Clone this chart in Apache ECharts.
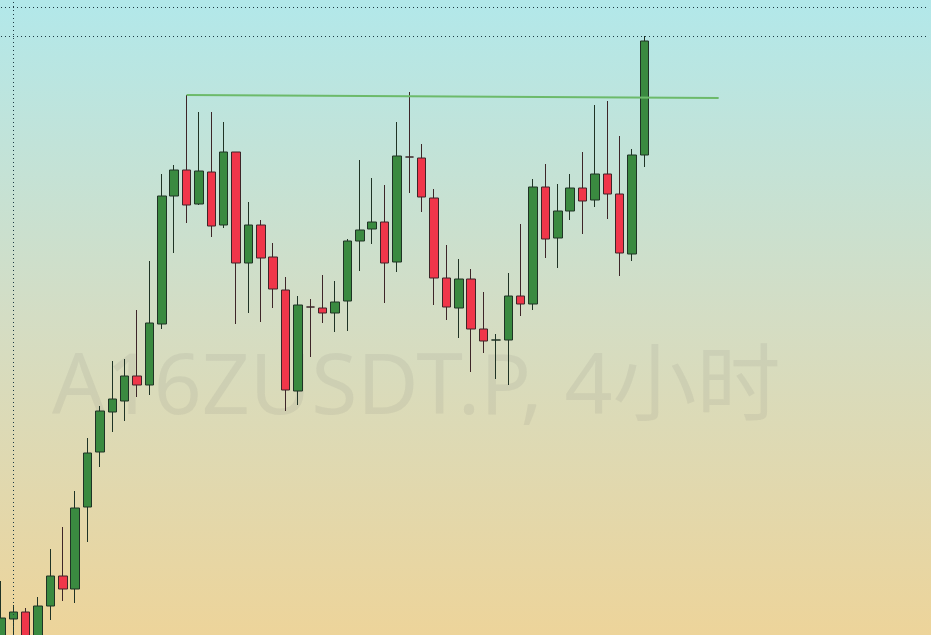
<!DOCTYPE html>
<html>
<head>
<meta charset="utf-8">
<script src="https://cdn.jsdelivr.net/npm/echarts@6/dist/echarts.min.js"></script>
<style>
html,body{margin:0;padding:0;width:931px;height:635px;overflow:hidden;}
#chart{width:931px;height:635px;}
</style>
</head>
<body>
<div id="chart"></div>
<script>
// Price values (arbitrary price units)
var opens  = [-10,16,23,-10,29,59,46,128,183,223,234,259,250,311,439,465,431,463,410,483,372,410,378,345,244,328,327,322,334,394,406,413,373,478,477,437,357,327,356,306,295,295,339,331,448,397,424,447,435,461,441,381,480];
var closes = [17,23,-10,29,59,46,127,182,224,236,259,250,312,439,465,430,464,409,483,372,410,377,346,245,330,328,322,333,394,405,413,372,479,478,438,357,328,356,306,294,295,339,331,448,396,424,447,434,461,441,382,480,594];
var lows   = [-20,-10,-15,-15,15,34,32,93,168,203,214,238,240,306,382,412,430,398,407,311,322,313,327,224,230,278,312,303,304,364,391,332,363,442,423,330,315,297,263,282,256,250,319,325,377,367,415,401,428,416,359,374,468];
var highs  = [54,30,27,38,86,108,144,197,229,274,276,325,374,461,470,540,523,523,513,483,433,415,392,358,339,336,360,354,396,475,457,450,513,543,491,446,390,376,366,343,301,362,411,456,471,451,461,483,530,534,499,486,599];
// reference levels
var trendStart = [15, 540];
var trendEnd   = [58, 537];
var levelLines = [599, 628];
var crossIndex = 1;

var slotCount = 76;
var categories = [];
for (var i = 0; i < slotCount; i++) categories.push('K' + (i + 1));
var ohlc = [];
for (var j = 0; j < slotCount; j++) {
  if (j < opens.length) ohlc.push([opens[j], closes[j], lows[j], highs[j]]);
  else ohlc.push('-');
}

var chart = echarts.init(document.getElementById('chart'), null, {renderer: 'canvas'});
chart.setOption({
  animation: false,
  backgroundColor: {
    type: 'linear', x: 0, y: 0, x2: 0, y2: 1,
    colorStops: [
      {offset: 0, color: '#b2e8ea'},
      {offset: 0.5, color: '#d4ddc4'},
      {offset: 1, color: '#edd49a'}
    ]
  },
  graphic: [{
    type: 'text',
    left: 52,
    top: 348,
    z: 0,
    silent: true,
    style: {
      text: 'A16ZUSDT.P, 4小时',
      font: '400 84px "Noto Sans", "Noto Sans CJK SC", sans-serif',
      fill: 'rgba(110,110,110,0.10)'
    }
  }],
  grid: {left: 1, right: 2, top: 0, bottom: 0},
  xAxis: {
    type: 'category',
    data: categories,
    boundaryGap: false,
    axisLine: {show: false},
    axisTick: {show: false},
    axisLabel: {show: false},
    splitLine: {show: false}
  },
  yAxis: {
    type: 'value',
    min: 0,
    max: 635,
    axisLine: {show: false},
    axisTick: {show: false},
    axisLabel: {show: false},
    splitLine: {show: false}
  },
  series: [{
    type: 'candlestick',
    data: ohlc,
    clip: false,
    barWidth: 9,
    z: 3,
    itemStyle: {
      color: '#3a8a40',
      color0: '#f0364a',
      borderColor: '#1f3325',
      borderColor0: '#3d2528',
      borderWidth: 1
    },
    markLine: {
      silent: true,
      symbol: ['none', 'none'],
      animation: false,
      label: {show: false},
      data: [
        {yAxis: levelLines[0], lineStyle: {type: [1, 3], color: '#1d3b44', width: 1}},
        {yAxis: levelLines[1], lineStyle: {type: [1, 3], color: '#1d3b44', width: 1}},
        {xAxis: crossIndex, lineStyle: {type: [1, 3], color: '#1d3b44', width: 1}},
        [
          {coord: trendStart, lineStyle: {type: 'solid', color: '#6cba6a', width: 2}},
          {coord: trendEnd}
        ]
      ]
    }
  }]
});
</script>
</body>
</html>
